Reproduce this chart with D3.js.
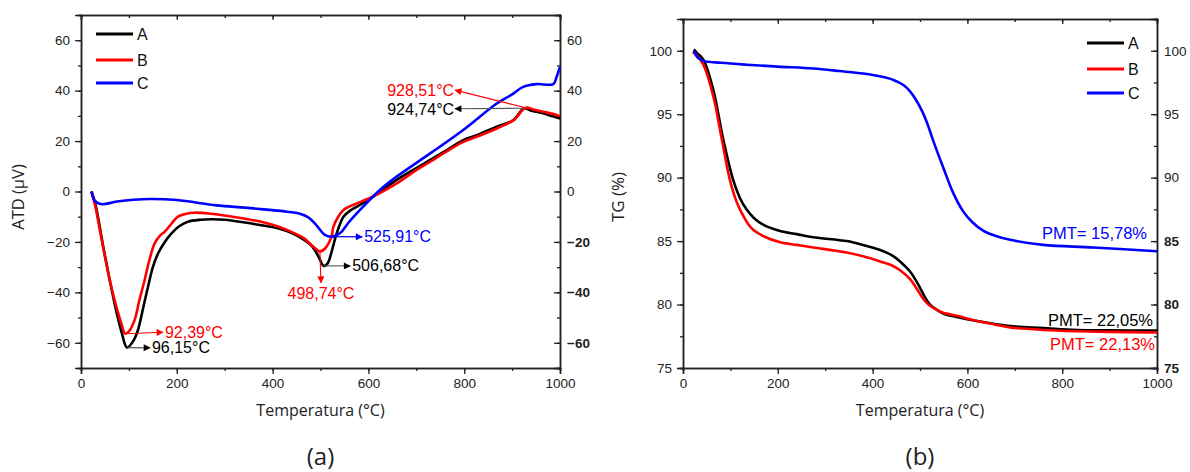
<!DOCTYPE html>
<html><head><meta charset="utf-8">
<script src="https://cdn.jsdelivr.net/npm/d3@7"></script>
<style>
body{margin:0;background:#fff;}
svg{display:block;}
.tick text{font-family:"Liberation Sans",Arial,sans-serif;font-size:13.5px;fill:#222;}
.domain{stroke:#222;stroke-width:1.5px;}
.tick line{stroke:#222;stroke-width:1.3px;}
</style>
</head><body>
<svg id="c" width="1190" height="472"></svg>
<script>
// ---------- DATA ----------
const seriesNames = ["A", "B", "C"];
const seriesColors = ["#000000", "#ff0000", "#0000ff"];

// DTA (panel a)
const dtaA_T = [22, 30, 49, 70, 85, 96.15, 110, 119, 130, 140, 150, 161, 175, 189, 205, 223, 250, 272, 300, 342, 380, 411, 440, 460, 481, 495, 506.68, 515, 523, 534, 548, 562, 576, 610, 659, 700, 729, 760, 798, 830, 868, 903, 924.74, 940, 965, 985, 1000];
const dtaA_V = [0, -5, -24.5, -44.3, -56, -61.9, -59, -54.9, -46, -37.7, -30, -24.5, -20, -16.6, -13.8, -12, -11.2, -11, -11.2, -12.3, -13.5, -14.6, -16.5, -18.5, -21.5, -25.5, -29.5, -28.5, -24, -16.5, -10, -7.6, -6, -2, 4.6, 9.3, 12.5, 16, 20.4, 22.6, 25.7, 28.3, 33, 32, 31, 29.8, 29];
const dtaB_T = [22, 30, 42, 63, 84, 92.39, 100, 112, 122, 133, 143, 154, 165, 175, 190, 202, 220, 237, 270, 307, 340, 376, 410, 446, 465, 481, 492, 498.74, 510, 523, 527, 537, 548, 562, 576, 610, 659, 700, 729, 760, 798, 830, 868, 903, 928.51, 945, 965, 985, 1000];
const dtaB_V = [0, -6, -17.9, -37.7, -52.2, -56.4, -55.5, -50.9, -43, -35, -27, -20.5, -17.5, -15.9, -12.5, -10, -8.8, -8.4, -8.8, -9.7, -10.7, -12, -13.8, -16.6, -18.5, -21.2, -23, -23.8, -22.5, -17.9, -13.9, -10, -7.3, -5.8, -4.7, -2, 3.2, 8.5, 11.8, 15.5, 19.7, 22, 25, 28.3, 33.2, 32.5, 31.6, 30.8, 29.9];
const dtaC_T = [22, 28, 42, 75, 110, 144, 200, 283, 342, 388, 430, 457, 475, 492, 509, 525.91, 541, 560, 589, 624, 659, 729, 798, 868, 900, 923, 951, 986, 993, 1000];
const dtaC_V = [0, -3.5, -5, -4, -3.3, -3, -3.4, -5.5, -6.4, -7.2, -8, -8.8, -10.3, -13.5, -17.2, -17.9, -16.5, -12, -6, 0.6, 5.9, 15.1, 24.4, 34.9, 38.5, 41.5, 42.6, 42.6, 45.5, 49.4];

// TG (panel b)
const tgA_T = [23, 30, 43, 64, 85, 106, 120, 134, 150, 169, 205, 240, 275, 345, 380, 416, 440, 458, 479, 499, 510, 521, 535, 549, 580, 620, 690, 760, 831, 900, 1000];
const tgA_V = [100.1, 99.8, 99.3, 96.9, 93, 89.8, 88.4, 87.5, 86.8, 86.3, 85.8, 85.55, 85.3, 85.0, 84.7, 84.3, 83.9, 83.4, 82.6, 81.4, 80.6, 80, 79.6, 79.3, 79.0, 78.7, 78.3, 78.15, 78.0, 77.97, 77.95];
const tgB_T = [20.5, 30, 43, 64, 82, 99, 113, 127, 145, 169, 205, 240, 275, 345, 380, 416, 440, 458, 479, 499, 510, 521, 535, 549, 580, 605, 655, 690, 760, 831, 900, 1000];
const tgB_V = [99.9, 99.6, 98.9, 96.4, 93, 89.8, 88.1, 87, 86, 85.4, 84.9, 84.7, 84.5, 84.1, 83.8, 83.4, 83.1, 82.7, 82.0, 80.9, 80.3, 79.9, 79.6, 79.35, 79.1, 78.85, 78.45, 78.2, 78.0, 77.9, 77.85, 77.8];
const tgC_T = [23, 30, 43, 80, 134, 200, 275, 330, 380, 420, 444, 465, 479, 492, 505, 517, 528, 549, 570, 590, 610, 634, 660, 690, 760, 865, 1000];
const tgC_V = [100, 99.5, 99.2, 99.05, 98.9, 98.75, 98.6, 98.4, 98.2, 97.95, 97.7, 97.3, 96.8, 96.1, 95.2, 94.1, 92.9, 90.8, 88.8, 87.4, 86.5, 85.8, 85.4, 85.1, 84.7, 84.5, 84.2];

// axis ticks
const xTicks = [0, 200, 400, 600, 800, 1000];
const dtaTicks = [-60, -40, -20, 0, 20, 40, 60];
const tgTicks = [75, 80, 85, 90, 95, 100];

// peak annotations (panel a)
const peakLabels = ["928,51°C", "924,74°C", "525,91°C", "506,68°C", "498,74°C", "92,39°C", "96,15°C"];
const peakSeries = [1, 0, 2, 0, 1, 1, 0];
const peakT = [928.51, 924.74, 525.91, 506.68, 498.74, 92.39, 96.15];
const peakV = [33.2, 33.0, -17.9, -29.5, -23.8, -56.4, -61.9];
const labelT = [781, 781, 587, 562, 501, 171, 144];
const labelV = [40.2, 32.8, -18.0, -29.5, -36.2, -55.8, -62.0];

// mass-loss annotations (panel b)
const pmtLabels = ["PMT= 15,78%", "PMT= 22,05%", "PMT= 22,13%"];
const pmtSeries = [2, 0, 1];
const pmtT = [979, 991.6, 995.8];
const pmtV = [85.6, 78.8, 76.9];

// ---------- DRAW ----------
const svg = d3.select("#c");
const defs = svg.append("defs");
seriesColors.forEach((c, i) => {
  defs.append("marker").attr("id", "ar" + i).attr("viewBox", "0 0 10 10")
    .attr("refX", 9).attr("refY", 5).attr("markerWidth", 9).attr("markerHeight", 7)
    .attr("markerUnits", "userSpaceOnUse").attr("orient", "auto")
    .append("path").attr("d", "M0,0L10,5L0,10Z").attr("fill", c);
});

function panel(opt) {
  const x = d3.scaleLinear().domain([0, 1000]).range([opt.x0, opt.x1]);
  const y = d3.scaleLinear().domain(opt.yDomain).range([opt.y0, opt.y1]);
  const g = svg.append("g");
  const minorX = d3.range(0, 1001, 100);
  const minorY = d3.range(opt.yDomain[0], opt.yDomain[1] + 0.001, opt.minorStep);
  g.append("g").attr("transform", `translate(0,${opt.y0})`)
    .call(d3.axisBottom(x).tickValues(minorX).tickSize(3).tickFormat(""));
  g.append("g").attr("transform", `translate(0,${opt.y1})`)
    .call(d3.axisBottom(x).tickValues(minorX).tickSize(3).tickFormat(""));
  g.append("g").attr("transform", `translate(${opt.x0},0)`)
    .call(d3.axisLeft(y).tickValues(minorY).tickSize(3).tickFormat(""));
  g.append("g").attr("transform", `translate(${opt.x1},0)`)
    .call(d3.axisLeft(y).tickValues(minorY).tickSize(3).tickFormat(""));
  g.append("g").attr("transform", `translate(0,${opt.y0})`)
    .call(d3.axisBottom(x).tickValues(xTicks).tickSize(6).tickPadding(4).tickFormat(d3.format("d")));
  g.append("g").attr("transform", `translate(0,${opt.y1})`)
    .call(d3.axisBottom(x).tickValues(xTicks).tickSize(5).tickFormat(""));
  g.append("g").attr("transform", `translate(${opt.x0},0)`)
    .call(d3.axisLeft(y).tickValues(opt.yTicks).tickSize(6).tickPadding(5).tickFormat(d3.format("d")));
  const ra = g.append("g").attr("transform", `translate(${opt.x1},0)`)
    .call(d3.axisRight(y).tickValues(opt.yTicks).tickSize(-6).tickPadding(7).tickFormat(d3.format("d")));
  ra.selectAll(".tick text").style("font-weight", d => y(d) > 215 ? "bold" : "normal");
  g.selectAll(".domain").attr("stroke", "#222").attr("stroke-width", 1.6);

  const line = d3.line().x(d => x(d[0])).y(d => y(d[1])).curve(d3.curveCatmullRom.alpha(0.5));
  opt.series.forEach((s, i) => {
    g.append("path").datum(d3.zip(s[0], s[1]))
      .attr("fill", "none").attr("stroke", seriesColors[i]).attr("stroke-width", 2.6)
      .attr("stroke-linejoin", "round").attr("d", line);
  });

  g.append("text").attr("x", (opt.x0 + opt.x1) / 2).attr("y", 416).attr("text-anchor", "middle")
    .style("font-family", "'Open Sans',sans-serif").style("font-size", "16px").attr("fill", "#222")
    .text("Temperatura (°C)");
  g.append("text").attr("transform", `translate(${opt.titleX},197) rotate(-90)`).attr("text-anchor", "middle")
    .style("font-family", "'Open Sans',sans-serif").style("font-size", opt.titleSize).attr("fill", "#222")
    .text(opt.yTitle);
  g.append("text").attr("x", (opt.x0 + opt.x1) / 2).attr("y", 465).attr("text-anchor", "middle")
    .style("font-family", "'Open Sans',sans-serif").style("font-size", "24px").attr("fill", "#222")
    .text(opt.letter);

  seriesNames.forEach((n, i) => {
    const ly = opt.legY[i];
    g.append("line").attr("x1", opt.legX).attr("x2", opt.legX + 37).attr("y1", ly).attr("y2", ly)
      .attr("stroke", seriesColors[i]).attr("stroke-width", 2.8);
    g.append("text").attr("x", opt.legX + 41).attr("y", ly + 6)
      .style("font-family", "'Liberation Sans',Arial,sans-serif").style("font-size", "16px").attr("fill", "#111")
      .text(n);
  });
  return {g, x, y};
}

const pa = panel({x0: 81, x1: 560, y0: 368, y1: 15, yDomain: [-70, 70], minorStep: 10, yTicks: dtaTicks,
  series: [[dtaA_T, dtaA_V], [dtaB_T, dtaB_V], [dtaC_T, dtaC_V]],
  yTitle: "ATD (μV)", titleX: 24, titleSize: "16.5px", letter: "(a)", legX: 96, legY: [34, 60, 83]});

const pb = panel({x0: 683, x1: 1157, y0: 368, y1: 19, yDomain: [75, 102.5], minorStep: 2.5, yTicks: tgTicks,
  series: [[tgA_T, tgA_V], [tgB_T, tgB_V], [tgC_T, tgC_V]],
  yTitle: "TG (%)", titleX: 624, titleSize: "17px", letter: "(b)", legX: 1087, legY: [43, 69, 93]});

peakLabels.forEach((lab, i) => {
  const c = seriesColors[peakSeries[i]];
  const x1 = pa.x(peakT[i]), y1 = pa.y(peakV[i]);
  const x2 = pa.x(labelT[i]), y2 = pa.y(labelV[i]);
  pa.g.append("line").attr("x1", x1).attr("y1", y1).attr("x2", x2).attr("y2", y2)
    .attr("stroke", peakSeries[i] === 0 ? "#555" : c).attr("stroke-width", 1.1)
    .attr("marker-end", `url(#ar${peakSeries[i]})`);
  const t = pa.g.append("text").attr("fill", c)
    .style("font-family", "'Liberation Sans',Arial,sans-serif").style("font-size", "16px").text(lab);
  if (x2 < x1 - 5) {
    t.attr("x", x2 - 1).attr("y", y2 + 6).attr("text-anchor", "end");
  } else if (Math.abs(x2 - x1) < 5) {
    t.attr("x", x2).attr("y", y2 + 16).attr("text-anchor", "middle");
  } else {
    t.attr("x", x2 + 2).attr("y", y2 + 5.5).attr("text-anchor", "start");
  }
});

pmtLabels.forEach((lab, i) => {
  pb.g.append("text").attr("x", pb.x(pmtT[i])).attr("y", pb.y(pmtV[i]) + 6).attr("text-anchor", "end")
    .attr("fill", seriesColors[pmtSeries[i]])
    .style("font-family", "'Liberation Sans',Arial,sans-serif").style("font-size", "16.5px").text(lab);
});
</script>
</body></html>
